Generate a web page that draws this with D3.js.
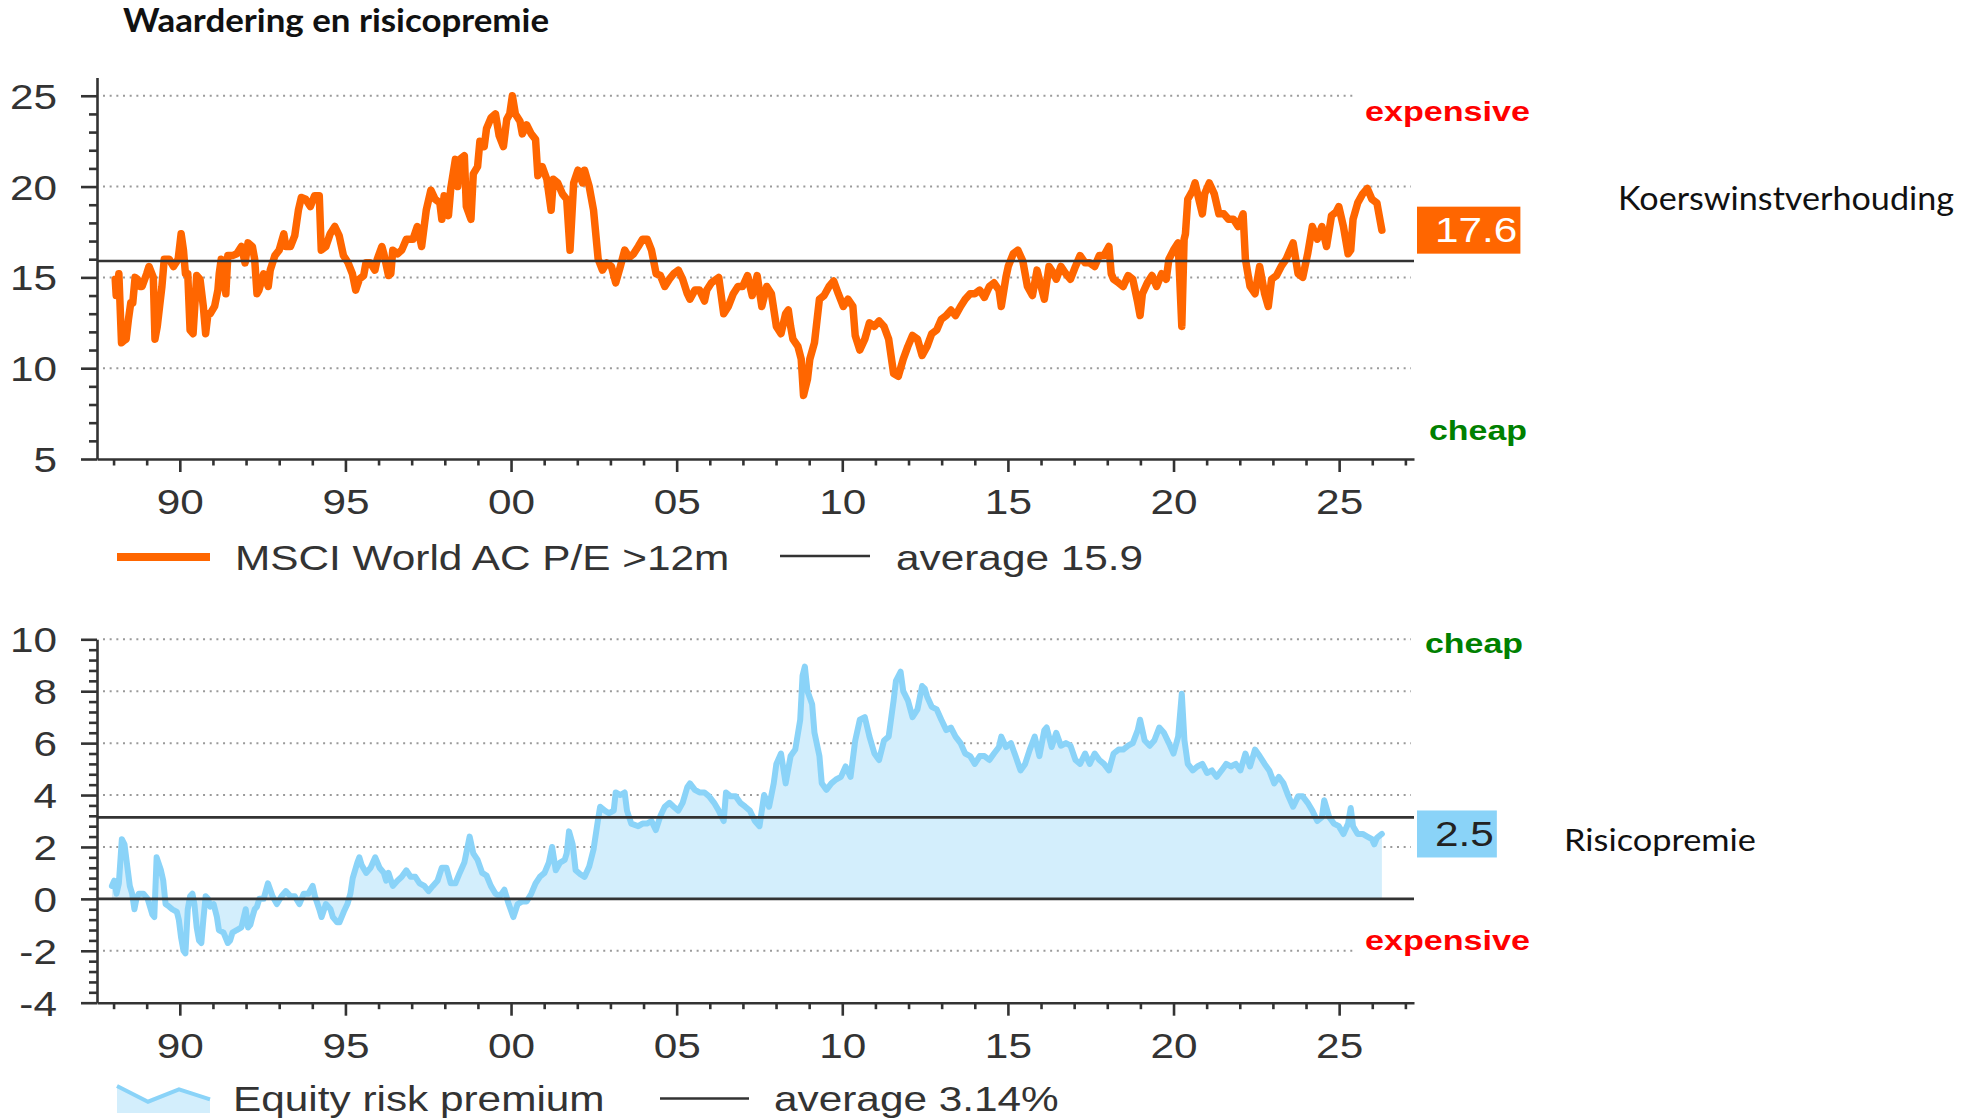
<!DOCTYPE html>
<meta charset="utf-8">
<script src="https://d3js.org/d3.v7.min.js"></script>
<style>
  body { margin: 0; background: #fff; }
</style>
<div id="chart"></div>
<script>

// MSCI World AC P/E >12m (decimal years / values)
var peYears = [1988.05,1988.08,1988.16,1988.24,1988.30,1988.38,1988.45,1988.52,1988.58,1988.65,1988.72,1988.79,1988.86,1989.00,1989.07,1989.20,1989.25,1989.32,1989.39,1989.46,1989.53,1989.68,1989.81,1989.95,
  1990.04,1990.11,1990.17,1990.24,1990.31,1990.40,1990.51,1990.61,1990.71,1990.78,1990.85,1990.92,1991.05,1991.15,1991.19,1991.25,1991.32,1991.39,1991.45,1991.59,1991.72,1991.86,1991.97,
  1992.06,1992.19,1992.26,1992.33,1992.39,1992.53,1992.67,1992.73,1992.87,1993.00,1993.14,1993.20,1993.34,1993.47,1993.58,1993.67,1993.80,1993.94,1994.07,1994.21,1994.27,1994.41,1994.54,1994.68,1994.81,1994.94,
  1995.08,1995.21,1995.31,1995.42,1995.55,1995.62,1995.75,1995.89,1995.96,1996.10,1996.16,1996.30,1996.37,1996.43,1996.57,1996.70,1996.84,1997.04,1997.17,1997.30,1997.44,1997.58,1997.71,1997.85,1997.91,1997.98,
  1998.11,1998.18,1998.32,1998.39,1998.45,1998.59,1998.65,1998.79,1998.86,1998.99,1999.06,1999.19,1999.26,1999.40,1999.53,1999.64,1999.77,1999.87,1999.96,
  2000.04,2000.13,2000.27,2000.34,2000.47,2000.61,2000.74,2000.81,2000.94,2001.08,2001.21,2001.28,2001.41,2001.55,2001.68,2001.78,2001.89,2002.02,2002.16,2002.22,2002.36,2002.49,2002.63,2002.76,2002.89,
  2003.03,2003.16,2003.30,2003.43,2003.57,2003.70,2003.84,2003.97,2004.11,2004.24,2004.38,2004.51,2004.64,2004.78,2004.91,2005.05,2005.18,2005.32,2005.40,2005.55,2005.69,2005.84,2005.91,
  2006.05,2006.27,2006.42,2006.56,2006.71,2006.85,2006.99,2007.14,2007.28,2007.43,2007.57,2007.72,2007.86,2008.01,2008.15,2008.29,2008.37,2008.44,2008.51,2008.66,2008.76,2008.83,2008.95,
  2009.02,2009.16,2009.31,2009.45,2009.60,2009.74,2009.88,2010.03,2010.17,2010.32,2010.39,2010.53,2010.68,2010.82,2010.97,2011.11,2011.26,2011.40,2011.55,2011.69,2011.84,2011.98,
  2012.12,2012.27,2012.41,2012.56,2012.70,2012.85,2012.99,2013.14,2013.28,2013.42,2013.57,2013.71,2013.86,2014.00,2014.15,2014.29,2014.44,2014.58,2014.73,2014.80,2014.94,
  2015.01,2015.16,2015.30,2015.45,2015.59,2015.74,2015.88,2016.03,2016.10,2016.24,2016.39,2016.46,2016.60,2016.75,2016.89,2017.04,2017.18,2017.33,2017.47,2017.62,2017.76,2017.90,
  2018.05,2018.12,2018.19,2018.34,2018.48,2018.63,2018.77,2018.92,2018.99,2019.06,2019.21,2019.35,2019.49,2019.64,2019.78,2019.86,2020.00,2020.14,2020.25,2020.32,2020.36,2020.43,2020.58,2020.65,2020.79,2020.87,2020.94,
  2021.08,2021.23,2021.37,2021.52,2021.66,2021.81,2021.95,2022.10,2022.17,2022.31,2022.46,2022.60,2022.75,2022.86,2022.96,2023.11,2023.25,2023.40,2023.61,2023.76,2023.90,
  2024.05,2024.19,2024.34,2024.48,2024.62,2024.77,2024.91,2024.99,2025.13,2025.27,2025.35,2025.42,2025.56,2025.71,2025.85,2025.99,2026.14,2026.21,2026.29];
var peValues = [14.9,14.0,15.2,11.4,11.5,11.6,12.7,13.6,13.6,15.0,14.9,14.5,14.5,15.2,15.6,15.0,11.6,12.3,13.4,14.5,16.0,16.0,15.6,16.0,
  17.4,16.5,15.2,15.2,12.1,11.9,15.1,14.9,13.4,11.9,13.0,13.0,13.4,14.3,15.2,16.0,15.1,14.1,16.2,16.2,16.3,16.7,15.8,
  16.9,16.7,16.0,14.1,14.3,15.2,14.5,15.4,16.2,16.5,17.4,16.7,16.7,17.3,18.7,19.4,19.3,18.9,19.5,19.5,16.5,16.7,17.4,17.8,17.3,16.2,
  15.8,15.2,14.3,14.9,15.1,15.8,15.8,15.4,16.0,16.7,16.3,15.1,15.2,16.5,16.3,16.5,17.1,17.1,17.8,16.7,18.7,19.8,19.3,19.1,18.2,19.5,
  18.4,19.9,21.5,20.0,21.5,21.7,18.9,18.2,20.7,21.1,22.5,22.2,23.2,23.8,24.0,22.8,22.2,23.7,24.0,
  25.0,24.0,23.6,22.9,23.4,22.9,22.6,20.6,21.1,20.4,18.7,20.4,20.2,19.6,19.3,16.5,20.2,20.9,20.2,20.9,20.0,18.7,16.0,15.4,15.8,
  15.6,14.7,15.6,16.5,16.1,16.3,16.7,17.1,17.1,16.5,15.2,15.1,14.5,14.9,15.2,15.4,14.9,14.1,13.8,14.3,14.3,13.7,14.3,
  14.7,15.0,13.0,13.4,14.1,14.5,14.5,15.1,14.0,15.1,13.4,14.5,14.1,12.3,11.9,13.0,13.2,12.3,11.6,11.2,10.5,8.5,9.4,
  10.5,11.4,13.8,14.0,14.5,14.8,14.1,13.4,13.8,13.4,11.8,11.0,11.6,12.5,12.3,12.6,12.3,11.6,9.7,9.55,10.5,11.2,
  11.8,11.6,10.7,11.2,11.9,12.1,12.7,12.9,13.2,12.9,13.4,13.8,14.1,14.1,14.3,13.9,14.5,14.7,14.3,13.4,15.0,
  15.6,16.3,16.5,15.9,14.5,14.0,15.4,14.3,13.8,15.6,15.2,14.9,15.6,15.2,14.9,15.6,16.2,15.8,15.8,15.6,16.2,16.2,
  16.7,15.2,14.9,14.7,14.5,15.1,14.9,13.6,12.9,14.1,14.7,15.1,14.5,15.2,14.9,16.0,16.5,16.9,12.3,17.1,17.4,19.3,19.8,20.2,19.1,18.5,19.6,
  20.2,19.6,18.5,18.5,18.2,18.2,17.8,18.5,16.0,14.5,14.1,15.6,14.1,13.4,14.9,15.1,15.6,16.0,16.9,15.2,15.0,
  16.3,17.8,17.1,17.8,16.7,18.4,18.6,18.9,17.8,16.3,16.5,18.2,19.1,19.6,19.9,19.3,19.1,18.4,17.6];

// Equity risk premium (%)
var erpYears = [1987.95,1988.02,1988.09,1988.16,1988.25,1988.33,1988.43,1988.49,1988.56,1988.63,1988.69,1988.76,1988.90,1989.03,1989.17,1989.23,1989.30,1989.43,1989.50,1989.57,1989.68,1989.77,1989.91,1989.97,
  1990.04,1990.11,1990.17,1990.24,1990.31,1990.38,1990.44,1990.51,1990.58,1990.65,1990.71,1990.78,1990.85,1990.92,1991.02,1991.12,1991.18,1991.32,1991.45,1991.52,1991.59,1991.72,1991.86,1991.99,
  1992.06,1992.13,1992.19,1992.26,1992.33,1992.40,1992.53,1992.66,1992.80,1992.93,1993.07,1993.20,1993.34,1993.47,1993.61,1993.74,1993.88,1994.01,1994.08,1994.21,1994.28,1994.41,1994.55,1994.62,1994.75,1994.82,1994.95,
  1995.06,1995.15,1995.22,1995.36,1995.42,1995.49,1995.63,1995.76,1995.90,1996.03,1996.16,1996.23,1996.30,1996.43,1996.57,1996.70,1996.84,1996.97,1997.11,1997.24,1997.38,1997.51,1997.64,1997.78,1997.91,
  1998.05,1998.18,1998.32,1998.45,1998.59,1998.75,1998.86,1998.99,1999.13,1999.26,1999.39,1999.53,1999.66,1999.80,1999.93,
  2000.07,2000.20,2000.34,2000.47,2000.61,2000.74,2000.87,2001.01,2001.14,2001.24,2001.35,2001.48,2001.62,2001.68,2001.75,2001.86,2001.95,2002.09,2002.22,2002.36,2002.49,2002.62,2002.69,2002.83,2002.96,
  2003.10,2003.16,2003.30,2003.43,2003.50,2003.63,2003.84,2003.97,2004.10,2004.24,2004.37,2004.51,2004.64,2004.78,2004.91,2005.05,2005.18,2005.32,2005.40,2005.55,2005.69,2005.84,2005.98,
  2006.13,2006.27,2006.42,2006.49,2006.63,2006.78,2006.92,2007.07,2007.21,2007.36,2007.50,2007.64,2007.79,2007.93,2008.01,2008.15,2008.29,2008.44,2008.58,2008.73,2008.80,2008.87,2008.95,
  2009.09,2009.16,2009.31,2009.38,2009.52,2009.67,2009.81,2009.96,2010.10,2010.25,2010.39,2010.53,2010.68,2010.82,2010.97,2011.11,2011.26,2011.40,2011.55,2011.62,2011.76,2011.84,2011.98,
  2012.12,2012.27,2012.41,2012.49,2012.56,2012.70,2012.85,2012.99,2013.14,2013.28,2013.42,2013.57,2013.71,2013.86,2014.00,2014.15,2014.29,2014.44,2014.58,2014.73,2014.80,2014.94,
  2015.09,2015.23,2015.38,2015.52,2015.66,2015.81,2015.95,2016.10,2016.17,2016.32,2016.46,2016.60,2016.75,2016.89,2017.04,2017.18,2017.33,2017.47,2017.62,2017.76,2017.90,
  2018.05,2018.19,2018.34,2018.48,2018.63,2018.77,2018.92,2018.99,2019.13,2019.28,2019.42,2019.57,2019.71,2019.86,2020.00,2020.14,2020.25,2020.33,2020.43,2020.58,2020.72,2020.87,
  2021.01,2021.16,2021.30,2021.45,2021.59,2021.73,2021.88,2022.02,2022.17,2022.31,2022.46,2022.60,2022.75,2022.89,2023.04,2023.18,2023.32,2023.47,2023.61,2023.76,2023.90,
  2024.05,2024.19,2024.34,2024.48,2024.55,2024.70,2024.84,2024.99,2025.13,2025.27,2025.35,2025.42,2025.56,2025.71,2025.85,2025.99,2026.06,2026.14,2026.29];
var erpValues = [0.5,0.7,0.2,0.6,2.3,2.1,1.1,0.5,0.2,-0.4,0.0,0.2,0.2,0.0,-0.6,-0.7,1.6,1.1,0.7,-0.2,-0.3,-0.4,-0.5,-0.8,
  -1.5,-2.0,-2.1,-0.4,0.1,0.2,-0.2,-1.1,-1.6,-1.7,-0.8,0.1,0.0,-0.3,-0.2,-0.7,-1.2,-1.3,-1.7,-1.6,-1.3,-1.2,-1.1,-0.4,
  -1.1,-1.0,-0.7,-0.4,-0.3,0.0,0.0,0.6,0.1,-0.2,0.1,0.3,0.1,0.1,-0.2,0.2,0.2,0.5,0.1,-0.4,-0.7,-0.2,-0.4,-0.7,-0.9,-0.9,-0.5,
  -0.2,0.2,0.8,1.4,1.6,1.3,1.0,1.2,1.6,1.2,1.0,0.7,1.0,0.5,0.7,0.85,1.1,0.85,0.85,0.6,0.5,0.3,0.5,0.7,1.2,
  1.2,0.6,0.6,1.0,1.4,2.4,1.75,1.5,1.0,0.9,0.5,0.2,0.1,0.35,-0.2,
  -0.7,-0.2,-0.1,-0.1,0.2,0.6,0.85,1.0,1.4,2.0,1.1,1.4,1.5,1.75,2.6,2.1,1.1,0.95,0.85,1.25,1.9,3.0,3.55,3.4,3.3,
  3.4,4.1,4.0,4.1,3.4,2.9,2.8,2.9,2.9,3.0,2.65,3.2,3.55,3.7,3.55,3.4,3.7,4.3,4.45,4.2,4.1,4.1,3.95,
  3.7,3.4,3.0,4.1,3.95,3.95,3.7,3.55,3.4,3.0,2.8,4.0,3.55,4.45,5.2,5.6,4.45,5.5,5.75,6.9,8.6,8.95,8.0,
  7.5,6.4,5.5,4.45,4.2,4.45,4.6,4.7,5.1,4.7,6.1,6.9,7.0,6.25,5.6,5.35,6.1,6.25,7.65,8.4,8.75,8.0,7.65,
  7.0,7.3,8.2,8.1,7.8,7.4,7.3,6.9,6.5,6.6,6.25,6.0,5.6,5.5,5.2,5.5,5.5,5.35,5.6,5.85,6.25,5.85,
  6.0,5.5,4.95,5.2,5.75,6.25,5.5,6.5,6.6,5.85,6.4,5.9,6.0,5.9,5.35,5.2,5.6,5.2,5.6,5.35,5.2,
  4.95,5.6,5.75,5.75,5.9,6.0,6.5,6.9,6.1,5.9,6.1,6.6,6.4,6.0,5.6,6.25,7.9,6.1,5.2,4.95,5.1,5.2,
  4.85,4.95,4.7,4.95,5.2,5.1,5.2,4.95,5.6,5.1,5.75,5.5,5.2,4.95,4.45,4.7,4.45,3.95,3.55,3.95,3.95,
  3.7,3.4,3.0,3.15,3.8,3.15,2.9,2.8,2.5,2.9,3.5,2.8,2.5,2.5,2.4,2.3,2.1,2.35,2.5];

var peAverage = 15.9;
var erpAverage = 3.14;

var yearTicks = [1990, 1995, 2000, 2005, 2010, 2015, 2020, 2025];
var peTicks = [5, 10, 15, 20, 25];
var peGrid = [10, 15, 20, 25];
var erpTicks = [-4, -2, 0, 2, 4, 6, 8, 10];
var erpGrid = [-2, 2, 4, 6, 8, 10];

var FONT = "Arial, 'Liberation Sans', sans-serif";
var SX = 1.21;          // the original chart text is stretched horizontally
var ORANGE = "#ff6600", BLUE = "#8ad3f8", BLUE_FILL = "#d3eefc", INK = "#333";

var svg = d3.select("#chart").append("svg")
  .attr("width", 1964).attr("height", 1119)
  .style("font-family", FONT);

var x = d3.scaleLinear().domain([1987.5, 2027.26]).range([97, 1414]);
var yTop = d3.scaleLinear().domain([5, 26]).range([459, 77.6]);
var yBot = d3.scaleLinear().domain([-4, 10]).range([1002.7, 639.3]);

var pe = peYears.map(function(d, i) { return { t: d, v: peValues[i] }; });
var erp = erpYears.map(function(d, i) { return { t: d, v: erpValues[i] }; });

// stretched text helper
function label(g, txt, px, py, opts) {
  opts = opts || {};
  return g.append("text")
    .attr("transform", "translate(" + px + "," + py + ") scale(" + SX + ",1)")
    .attr("text-anchor", opts.anchor || "start")
    .attr("font-size", opts.size || 35)
    .attr("font-weight", opts.weight || "normal")
    .attr("fill", opts.color || INK)
    .text(txt);
}

function grid(y, vals) {
  svg.append("g").selectAll("line").data(vals).join("line")
    .attr("x1", x.range()[0] + 6).attr("x2", x.range()[1] - 3)
    .attr("y1", function(d) { return y(d); }).attr("y2", function(d) { return y(d); })
    .attr("stroke", "#9a9a9a").attr("stroke-width", 2)
    .attr("stroke-dasharray", "2,4.67");
}

function refLine(y, v) {
  svg.append("line")
    .attr("x1", x.range()[0]).attr("x2", x.range()[1])
    .attr("y1", y(v)).attr("y2", y(v))
    .attr("stroke", INK).attr("stroke-width", 2.6);
}

function axes(y, major, minor) {
  var base = y.range()[0];
  // minor ticks
  svg.append("g").attr("transform", "translate(" + x.range()[0] + ",0)")
    .call(d3.axisLeft(y).tickValues(minor).tickSize(8).tickFormat(""))
    .call(function(a) { a.select(".domain").remove(); });
  svg.append("g").attr("transform", "translate(0," + base + ")")
    .call(d3.axisBottom(x).tickValues(d3.range(1988, 2028).filter(function(d) { return d % 5 != 0; }))
      .tickSize(6.5).tickFormat(""))
    .call(function(a) { a.select(".domain").remove(); });

  // major ticks + labels
  var ya = svg.append("g").attr("transform", "translate(" + x.range()[0] + ",0)")
    .call(d3.axisLeft(y).tickValues(major).tickSize(16).tickSizeOuter(0)
      .tickFormat(function(d) { return String(d); }));
  ya.selectAll("text").attr("x", -40 / SX).attr("dy", "0.36em")
    .attr("transform", "scale(" + SX + ",1)");

  var xa = svg.append("g").attr("transform", "translate(0," + base + ")")
    .call(d3.axisBottom(x).tickValues(yearTicks).tickSize(13).tickSizeOuter(0)
      .tickFormat(function(d) { return d3.format("02d")(d % 100); }));
  xa.selectAll("text").attr("y", 55).attr("dy", 0)
    .attr("transform", "scale(" + SX + ",1)");

  svg.selectAll(".tick line, .domain").attr("stroke", INK).attr("stroke-width", 2.6);
  svg.selectAll(".tick text").attr("fill", INK).attr("font-size", 35).attr("font-family", FONT);
}

function valueBox(y, v, fill, color) {
  var g = svg.append("g");
  var rect = g.append("rect").attr("fill", fill);
  var xr = x.range()[1] + 3;
  var t = label(g, d3.format(".1f")(v), 0, y(v) + 12, { anchor: "end", color: color });
  var w = t.node().getComputedTextLength() * SX + 21;
  rect.attr("x", xr).attr("y", y(v) - 23.5).attr("width", w).attr("height", 47);
  t.attr("transform", "translate(" + (xr + w - 3) + "," + (y(v) + 12) + ") scale(" + SX + ",1)");
}

function tag(txt, px, py, w, color) {
  // white backing so the grid stops before the label
  svg.append("rect").attr("x", px - 10).attr("y", py - 30).attr("width", w + 14).attr("height", 38).attr("fill", "#fff");
  svg.append("text").attr("x", px).attr("y", py)
    .attr("font-size", 28).attr("font-weight", "bold").attr("fill", color)
    .attr("textLength", w).attr("lengthAdjust", "spacingAndGlyphs")
    .text(txt);
}

// ---------- title
svg.append("text").attr("x", 123).attr("y", 32)
  .attr("font-family", "Lato, 'Open Sans', sans-serif").attr("font-weight", "bold").attr("font-size", 33)
  .attr("textLength", 426).attr("lengthAdjust", "spacingAndGlyphs").attr("fill", "#111")
  .text("Waardering en risicopremie");

// ---------- top panel: P/E
grid(yTop, peGrid);
svg.append("path").datum(pe)
  .attr("fill", "none").attr("stroke", ORANGE).attr("stroke-width", 7.5)
  .attr("stroke-linejoin", "round").attr("stroke-linecap", "round")
  .attr("d", d3.line().x(function(d) { return x(d.t); }).y(function(d) { return yTop(d.v); }));
refLine(yTop, peAverage);
axes(yTop, peTicks, d3.range(6, 25).filter(function(d) { return d % 5 != 0; }));
valueBox(yTop, peValues[peValues.length - 1], ORANGE, "#fff");
tag("expensive", 1365, 120.5, 165, "#ff0000");
tag("cheap", 1429, 440, 98, "#008000");

svg.append("text").attr("x", 1618).attr("y", 210)
  .attr("font-family", "Lato, 'Open Sans', sans-serif").attr("font-size", 32)
  .attr("textLength", 336).attr("lengthAdjust", "spacingAndGlyphs").attr("fill", "#111")
  .text("Koerswinstverhouding");

// legend top
var lt = svg.append("g");
lt.append("line").attr("x1", 117).attr("x2", 210).attr("y1", 557).attr("y2", 557)
  .attr("stroke", ORANGE).attr("stroke-width", 8);
label(lt, "MSCI World AC P/E >12m", 235, 570);
lt.append("line").attr("x1", 780).attr("x2", 870).attr("y1", 556).attr("y2", 556)
  .attr("stroke", INK).attr("stroke-width", 2.6);
label(lt, "average " + peAverage, 896, 570);

// ---------- bottom panel: equity risk premium
grid(yBot, erpGrid);
svg.append("path").datum(erp)
  .attr("fill", BLUE_FILL)
  .attr("d", d3.area().x(function(d) { return x(d.t); }).y0(yBot(0)).y1(function(d) { return yBot(d.v); }));
svg.append("path").datum(erp)
  .attr("fill", "none").attr("stroke", BLUE).attr("stroke-width", 6)
  .attr("stroke-linejoin", "round").attr("stroke-linecap", "round")
  .attr("d", d3.line().x(function(d) { return x(d.t); }).y(function(d) { return yBot(d.v); }));
refLine(yBot, 0);
refLine(yBot, erpAverage);
axes(yBot, erpTicks, d3.range(0, 35).filter(function(i) { return i % 5 != 0; }).map(function(i) { return -4 + i * 0.4; }));
valueBox(yBot, erpValues[erpValues.length - 1], BLUE, "#222");
tag("cheap", 1425, 653, 98, "#008000");
tag("expensive", 1365, 949.5, 165, "#ff0000");

svg.append("text").attr("x", 1564).attr("y", 851)
  .attr("font-family", "Lato, 'Open Sans', sans-serif").attr("font-size", 31)
  .attr("textLength", 192).attr("lengthAdjust", "spacingAndGlyphs").attr("fill", "#111")
  .text("Risicopremie");

// legend bottom
var lb = svg.append("g");
lb.append("path").attr("d", "M117,1086L148,1101.7L179,1089.3L210,1099.3L210,1113L117,1113Z").attr("fill", BLUE_FILL);
lb.append("path").attr("d", "M117,1086L148,1101.7L179,1089.3L210,1099.3")
  .attr("fill", "none").attr("stroke", BLUE).attr("stroke-width", 4);
label(lb, "Equity risk premium", 233, 1111);
lb.append("line").attr("x1", 660).attr("x2", 749).attr("y1", 1098.5).attr("y2", 1098.5)
  .attr("stroke", INK).attr("stroke-width", 2.6);
label(lb, "average " + erpAverage + "%", 774, 1111);

</script>
